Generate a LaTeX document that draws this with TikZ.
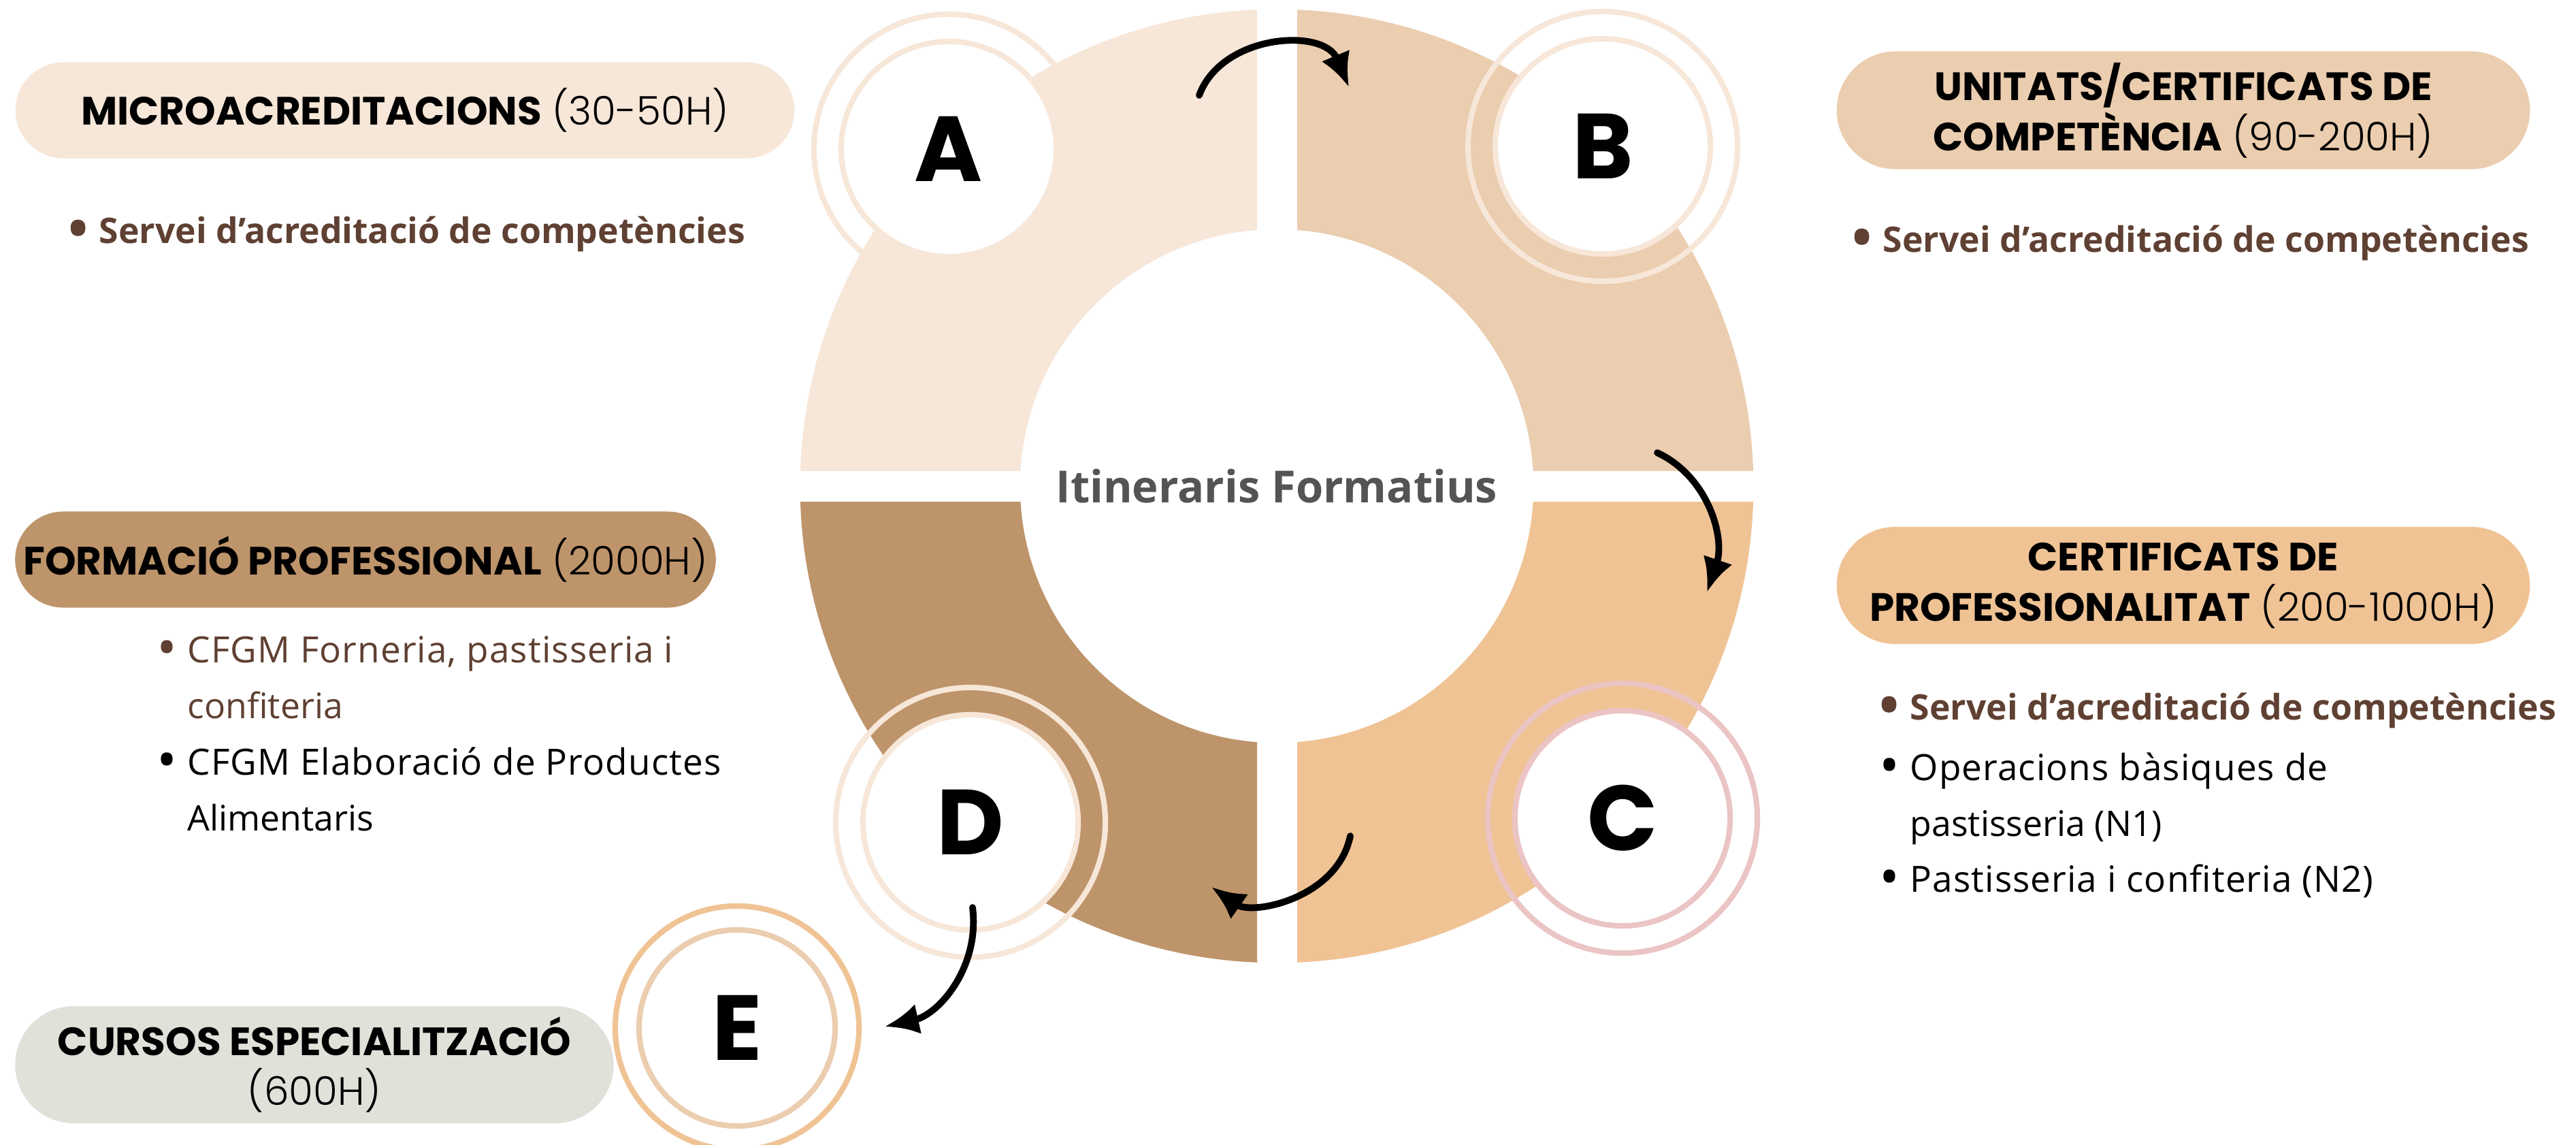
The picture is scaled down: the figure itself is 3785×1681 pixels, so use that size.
\documentclass[tikz,border=0pt]{standalone}
\usepackage{fontspec}
\setmainfont{Open Sans}
\newfontfamily\headfont{Poppins}
\IfFontExistsTF{Poppins Light}{\newfontfamily\lightfont{Poppins Light}}{\newfontfamily\lightfont{Poppins}}
\IfFontExistsTF{Open Sans SemiBold}{\newfontfamily\semifont{Open Sans SemiBold}}{\newfontfamily\semifont{Open Sans}[UprightFont=* Bold]}
\usetikzlibrary{arrows.meta}
\definecolor{white}{RGB}{255,255,255}
\definecolor{black}{RGB}{0,0,0}
\definecolor{quadA}{RGB}{247,231,217}
\definecolor{quadB}{RGB}{235,205,175}
\definecolor{quadC}{RGB}{240,195,149}
\definecolor{quadD}{RGB}{190,148,107}
\definecolor{sage}{RGB}{224,226,218}
\definecolor{rose}{RGB}{235,196,196}
\definecolor{cocoa}{RGB}{95,64,50}
\definecolor{slate}{RGB}{84,84,84}
\newcommand{\pillfont}{\headfont\fontsize{16.5}{21}\selectfont}
\newcommand{\listfont}{\fontsize{14.7}{23.3}\selectfont}
\newcommand{\plainfont}{\fontsize{15.1}{23.3}\selectfont\addfontfeatures{LetterSpace=2}}
\newcommand{\bul}{\makebox[0.45cm][l]{\raisebox{-0.13em}{\scalebox{1.5}{\textbullet}}}}
\newcommand{\ind}{\hspace*{0.45cm}}
\tikzset{
	halo/.style={circle,draw=#1,line width=2.3pt,minimum size=3.96cm,inner sep=0pt},
	disc/.style={circle,draw=#1,fill=white,line width=2.3pt,minimum size=3.16cm,inner sep=0pt,
		font=\headfont\bfseries\fontsize{38.6}{40}\selectfont},
	pill/.style={inner sep=0pt,align=center,font=\pillfont},
	entry/.style={anchor=base west,inner sep=0pt,align=left,font=\listfont},
	flow/.style={black,line width=2.8pt,line cap=round,-{Latex[length=0.5cm,width=0.45cm]}}
}

\begin{document}
\begin{tikzpicture}[x=0.01cm,y=-0.01cm]
	\useasboundingbox (0,0) rectangle (3785,1681);
	\fill[white] (0,0) rectangle (3785,1681);
	\coordinate (hub) at (1876,714);

	% ring quadrants
	\foreach \col/\xa/\ya/\xb/\yb in {quadA/0/0/1847/691,quadB/1906/0/3785/691,quadC/1906/737/3785/1681,quadD/0/737/1847/1681}
	{
		\begin{scope}
			\clip (\xa,\ya) rectangle (\xb,\yb);
			\fill[\col,even odd rule] (hub) circle[radius=7cm] (hub) circle[radius=3.77cm];
		\end{scope}
	}
	\node[inner sep=0pt,text=slate,font=\semifont\fontsize{18.5}{20}\selectfont] (title) at (hub) {Itineraris Formatius};

	% stage circles
	\node[halo=quadA] (haloA) at (1394,219) {};
	\node[halo=quadA] (haloB) at (2355,215) {};
	\node[halo=rose] (haloC) at (2384,1202) {};
	\node[halo=quadA] (haloD) at (1426,1208) {};
	\node[halo=quadC,minimum size=3.58cm] (haloE) at (1083,1510) {};
	\node[disc=quadA] (A) at (haloA) {A};
	\node[disc=quadA] (B) at (haloB) {B};
	\node[disc=rose] (C) at (haloC) {C};
	\node[disc=quadA] (D) at (haloD) {D};
	\node[disc=quadB,minimum size=2.88cm] (E) at (haloE) {E};

	% arrows
	\coordinate (ab1) at (1762,140);
	\coordinate (ab2) at (1982,128);
	\coordinate (bc1) at (2435,665);
	\coordinate (bc2) at (2508,870);
	\coordinate (cd1) at (1984,1228);
	\coordinate (cd2) at (1780,1303);
	\coordinate (de1) at (1429,1333);
	\coordinate (de2) at (1300,1508);
	\draw[flow] (ab1) .. controls (1795,50) and (1945,40) .. (ab2);
	\draw[flow] (bc1) .. controls (2510,700) and (2535,790) .. (bc2);
	\draw[flow] (cd1) .. controls (1965,1320) and (1840,1345) .. (cd2);
	\draw[flow] (de1) .. controls (1440,1420) and (1380,1490) .. (de2);

	% labels
	\node[pill,fill=quadA,minimum width=11.44cm,minimum height=1.41cm,rounded corners=0.705cm] (micro) at (595,162)
		{\textbf{MICROACREDITACIONS} {\lightfont(30-50H)}};
	\node[pill,fill=quadB,minimum width=10.18cm,minimum height=1.73cm,rounded corners=0.865cm] (units) at (3208,162)
		{\textbf{UNITATS/CERTIFICATS DE}\\\textbf{COMPETÈNCIA} {\lightfont(90-200H)}};
	\node[pill,fill=quadD,minimum width=10.29cm,minimum height=1.41cm,rounded corners=0.705cm] (fp) at (537,822)
		{\textbf{FORMACIÓ PROFESSIONAL} {\lightfont(2000H)}};
	\node[pill,fill=quadC,minimum width=10.18cm,minimum height=1.72cm,rounded corners=0.86cm] (cp) at (3208,860)
		{\textbf{CERTIFICATS DE}\\\textbf{PROFESSIONALITAT} {\lightfont(200-1000H)}};
	\node[pill,fill=sage,minimum width=8.79cm,minimum height=1.72cm,rounded corners=0.86cm] (spec) at (462,1564)
		{\textbf{CURSOS ESPECIALITZACIÓ}\\{\lightfont(600H)}};

	% lists
	\node[entry,text=cocoa] (microA) at (100,357) {\semifont\bul Servei d’acreditació de competències};
	\node[entry,text=cocoa] (unitsA) at (2721,370) {\semifont\bul Servei d’acreditació de competències};
	\node[entry,text=cocoa] (fpA) at (230,1055) {\plainfont\bul CFGM Forneria, pastisseria i\\\ind confiteria};
	\node[entry] (fpB) at (230,1220) {\plainfont\bul CFGM Elaboració de Productes\\\ind Alimentaris};
	\node[entry,text=cocoa] (cpA) at (2761,1057) {\semifont\bul Servei d’acreditació de competències};
	\node[entry] (cpB) at (2761,1228) {\plainfont\bul Operacions bàsiques de\\\ind pastisseria (N1)};
	\node[entry] (cpC) at (2761,1310) {\plainfont\bul Pastisseria i confiteria (N2)};
\end{tikzpicture}
\end{document}
